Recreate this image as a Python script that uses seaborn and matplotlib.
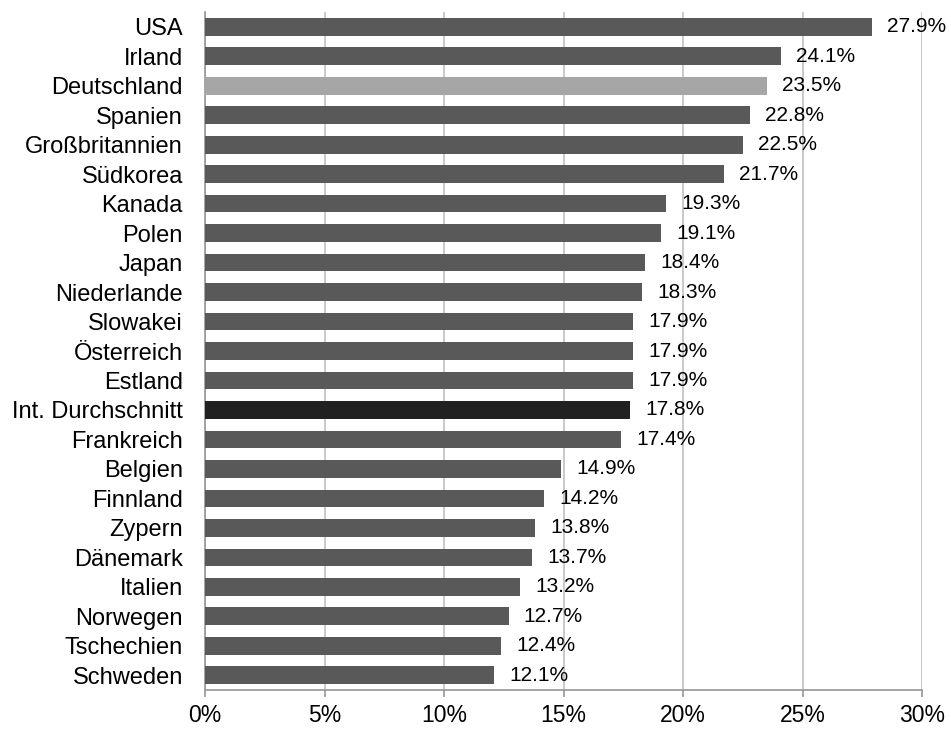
import matplotlib.pyplot as plt
import matplotlib.ticker as mticker
import seaborn as sns
import pandas as pd

countries = ["USA", "Irland", "Deutschland", "Spanien", "Großbritannien", "Südkorea",
             "Kanada", "Polen", "Japan", "Niederlande", "Slowakei", "Österreich",
             "Estland", "Int. Durchschnitt", "Frankreich", "Belgien", "Finnland",
             "Zypern", "Dänemark", "Italien", "Norwegen", "Tschechien", "Schweden"]
values = [27.9, 24.1, 23.5, 22.8, 22.5, 21.7, 19.3, 19.1, 18.4, 18.3, 17.9, 17.9,
          17.9, 17.8, 17.4, 14.9, 14.2, 13.8, 13.7, 13.2, 12.7, 12.4, 12.1]

colors = {c: "#595959" for c in countries}
colors["Deutschland"] = "#A6A6A6"
colors["Int. Durchschnitt"] = "#212121"

df = pd.DataFrame({"Land": countries, "Wert": values})

sns.set_theme(style="white")
plt.rcParams["font.family"] = ["Liberation Sans", "DejaVu Sans"]

fig = plt.figure(figsize=(9.51, 7.29), dpi=100)
ax = fig.add_axes([0.2156, 0.0535, 0.7539, 0.930])

sns.barplot(data=df, y="Land", x="Wert", hue="Land", palette=colors,
            legend=False, width=0.6, saturation=1, linewidth=0, ax=ax, zorder=3)

ax.set_xlim(0, 30)
ax.set_ylim(len(countries) - 0.5, -0.5)
ax.xaxis.set_major_locator(mticker.MultipleLocator(5))
ax.xaxis.set_major_formatter(mticker.FuncFormatter(lambda v, p: f"{v:.0f}%"))
ax.grid(axis="x", color="#C0C0C0", linewidth=1.2, zorder=0)
ax.set_axisbelow(True)

for side in ["top", "right"]:
    ax.spines[side].set_visible(False)
ax.spines["left"].set_color("#969696")
ax.spines["bottom"].set_color("#969696")
ax.spines["left"].set_linewidth(1.2)
ax.spines["bottom"].set_linewidth(1.2)

ax.tick_params(axis="x", bottom=True, length=5, width=1.2, color="#969696",
               labelsize=16.5, pad=5, labelcolor="black")
ax.tick_params(axis="y", left=False, length=0, labelsize=17, pad=16, labelcolor="black")
ax.set_xlabel("")
ax.set_ylabel("")

for i, v in enumerate(values):
    ax.annotate(f"{v:.1f}%", xy=(v, i), xytext=(11, 0), textcoords="offset points",
                va="center", ha="left", fontsize=15, color="black")

fig.savefig("out.png", dpi=100)
